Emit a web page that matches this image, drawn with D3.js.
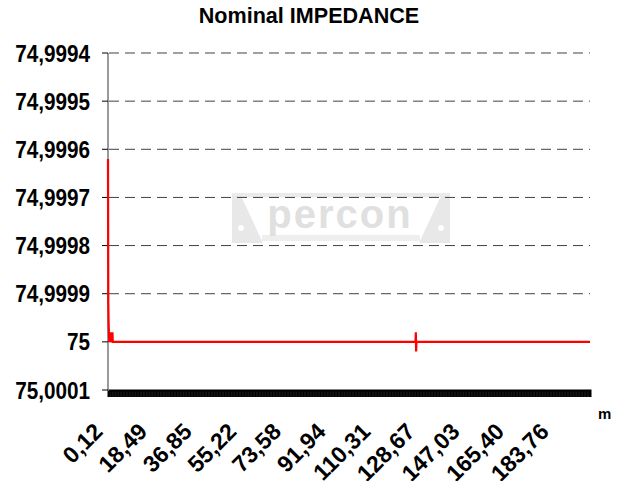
<!DOCTYPE html>
<html><head><meta charset="utf-8">
<script src="https://cdn.jsdelivr.net/npm/d3@7"></script>
<style>body{margin:0;background:#fff}svg{display:block}</style>
</head><body><svg id="c" width="617" height="481"></svg>
<script>
const chartTitle = "Nominal IMPEDANCE";
const unitLabel = "m";
const yTicks = [74.9994, 74.9995, 74.9996, 74.9997, 74.9998, 74.9999, 75, 75.0001];
const yTickLabels = ["74,9994", "74,9995", "74,9996", "74,9997", "74,9998", "74,9999", "75", "75,0001"];
const xTickValues = [0.12, 18.49, 36.85, 55.22, 73.58, 91.94, 110.31, 128.67, 147.03, 165.40, 183.76];
const xTickLabels = ["0,12", "18,49", "36,85", "55,22", "73,58", "91,94", "110,31", "128,67", "147,03", "165,40", "183,76"];
const xDomain = [0.12, 198.5];
const distance = [0.12, 0.24, 0.37, 0.49, 0.61, 0.73, 0.86, 0.98, 1.10, 1.22, 1.35, 1.47, 1.59, 1.71, 1.84, 1.96, 2.08, 126.69, 126.82, 126.94, 127.06, 198.5];
const impedance = [74.99962, 74.99992, 74.99996, 74.99998, 75, 74.99998, 75, 74.99998, 75, 74.99998, 75, 74.99998, 75, 74.99998, 75, 74.99998, 75, 75, 74.99998, 75.00002, 75, 75];

const svg = d3.select("#c");
const FONT = "'Liberation Sans', Arial, sans-serif";
const L = 108, R = 590, T = 53, B = 390;

const x = d3.scaleLinear().domain(xDomain).range([L, R]);
const y = d3.scaleLinear().domain([74.9994, 75.0001]).range([T, B]);

function squeeze(sel, k) {
  sel.each(function () {
    const w = this.getComputedTextLength();
    d3.select(this).attr("textLength", w * k).attr("lengthAdjust", "spacingAndGlyphs");
  });
}

// watermark
const wm = svg.append("g");
wm.append("rect").attr("x", 232).attr("y", 193).attr("width", 218).attr("height", 4).attr("fill", "#ebebeb");
wm.append("polygon").attr("points", "232,196 241,196 263,243 232,243").attr("fill", "#e8e8e8");
wm.append("polygon").attr("points", "450,196 441,196 419,243 450,243").attr("fill", "#e8e8e8");
wm.append("circle").attr("cx", 241).attr("cy", 228).attr("r", 3).attr("fill", "#fff");
wm.append("circle").attr("cx", 441).attr("cy", 228).attr("r", 3).attr("fill", "#fff");
wm.append("rect").attr("x", 262).attr("y", 235).attr("width", 158).attr("height", 6).attr("fill", "#eeeeee");
wm.append("text").attr("x", 340).attr("y", 228).attr("text-anchor", "middle")
  .attr("font-family", FONT).attr("font-weight", "bold").attr("font-size", 40)
  .attr("letter-spacing", 2).attr("fill", "#e0e0e0").text("percon");

// gridlines
svg.append("g").selectAll("line").data(yTicks.slice(0, -1)).join("line")
  .attr("x1", L + 1).attr("x2", R).attr("y1", d => y(d)).attr("y2", d => y(d))
  .attr("stroke", "#404040").attr("stroke-width", 1).attr("stroke-dasharray", "10,6");

// x axis with dense category ticks
const xAxis = d3.axisBottom(x).tickValues(d3.range(xDomain[0], xDomain[1], 0.25)).tickSize(7).tickFormat("");
const gx = svg.append("g").attr("transform", `translate(0,${B})`).call(xAxis);
gx.select(".domain").attr("stroke", "#000").attr("stroke-width", 2);
gx.selectAll(".tick line").attr("stroke", "#000").attr("stroke-width", 1);

// y axis
svg.append("line").attr("x1", L).attr("x2", L).attr("y1", T).attr("y2", B + 1)
  .attr("stroke", "#808080").attr("stroke-width", 1.6);
svg.append("g").selectAll("line").data(yTicks).join("line")
  .attr("x1", L - 6).attr("x2", L).attr("y1", d => y(d)).attr("y2", d => y(d))
  .attr("stroke", "#000").attr("stroke-width", 1);

// y labels
const yl = svg.append("g").selectAll("text").data(yTicks).join("text")
  .attr("x", 90).attr("y", d => y(d) + 8.5).attr("text-anchor", "end")
  .attr("font-family", FONT).attr("font-weight", "bold").attr("font-size", 23)
  .attr("fill", "#000").text((d, i) => yTickLabels[i]);
squeeze(yl, 0.9);

// x labels
svg.append("g").selectAll("text").data(xTickValues).join("text")
  .attr("transform", d => `translate(${x(d) - 4},433) rotate(-45)`)
  .attr("text-anchor", "end")
  .attr("font-family", FONT).attr("font-weight", "bold").attr("font-size", 23)
  .attr("fill", "#000").text((d, i) => xTickLabels[i]);

// series
const line = d3.line().x((d, i) => x(distance[i])).y((d, i) => y(impedance[i]));
svg.append("path").datum(impedance).attr("d", line)
  .attr("fill", "none").attr("stroke", "#ff0000").attr("stroke-width", 2.2);

// title
const tt = svg.append("text").attr("x", 309).attr("y", 23).attr("text-anchor", "middle")
  .attr("font-family", FONT).attr("font-weight", "bold").attr("font-size", 22)
  .attr("fill", "#000").text(chartTitle);
squeeze(tt, 0.98);

// unit
svg.append("text").attr("x", 598).attr("y", 419)
  .attr("font-family", FONT).attr("font-weight", "bold").attr("font-size", 15)
  .attr("fill", "#000").text(unitLabel);
</script></body></html>
